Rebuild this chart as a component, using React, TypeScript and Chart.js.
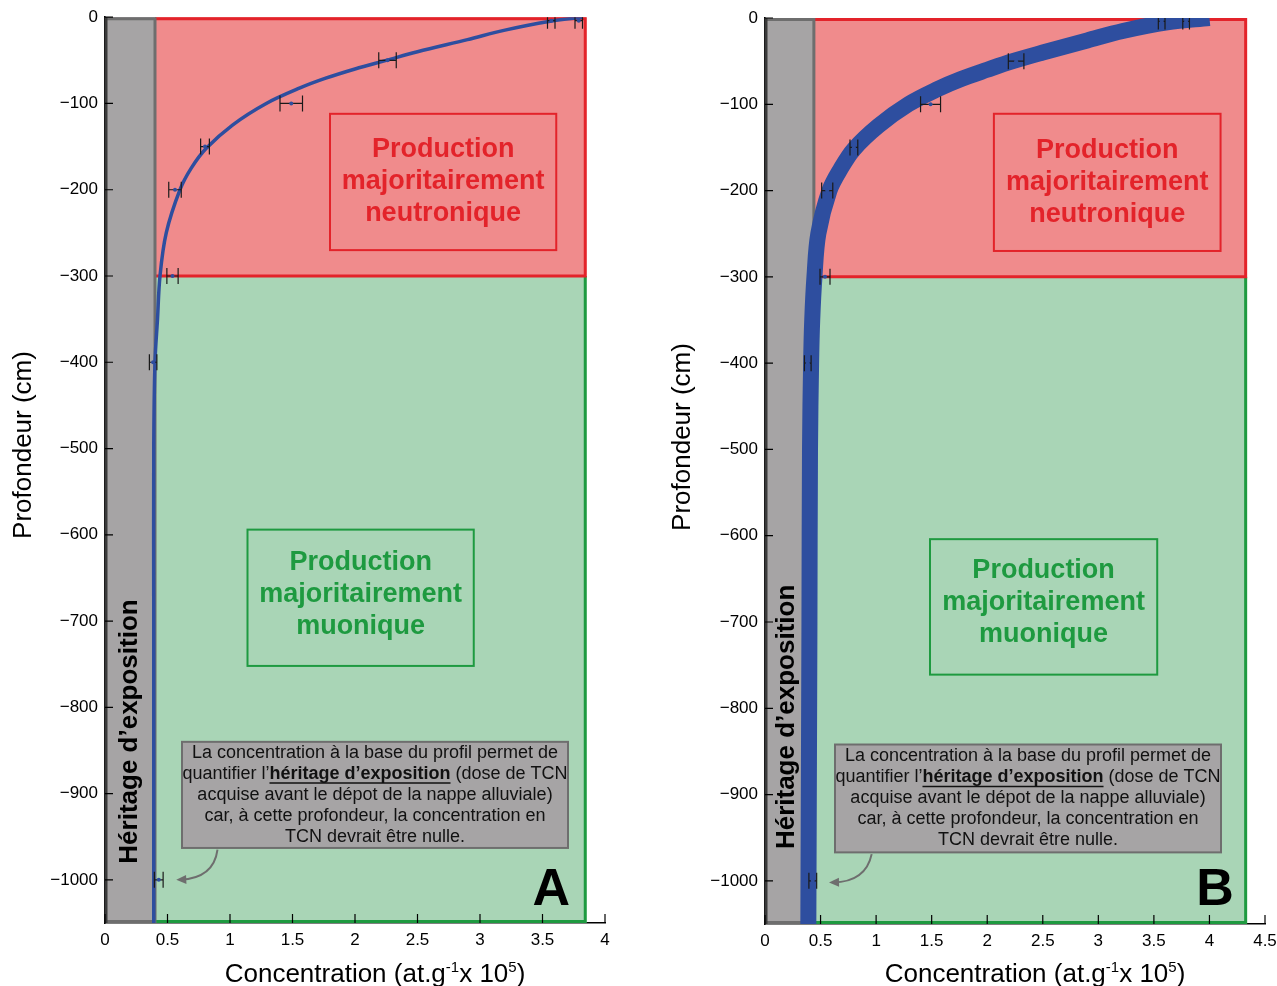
import React, { useEffect, useRef } from "react";
import { Chart, registerables } from "chart.js";
Chart.register(...registerables);

const FONT = "'Liberation Sans', Arial, Helvetica, sans-serif";

// ---------------- data ----------------
const yTickValues = [0, -100, -200, -300, -400, -500, -600, -700, -800, -900, -1000];
const xTickValuesA = [0, 0.5, 1, 1.5, 2, 2.5, 3, 3.5, 4];
const xTickValuesB = [0, 0.5, 1, 1.5, 2, 2.5, 3, 3.5, 4, 4.5];

// measured samples (depth in cm, concentration in at.g-1 x 1e5, half error)
const sampleDepth = [-4, -4, -50, -100, -150, -200, -300, -400, -1000];
const sampleConc = [3.57, 3.79, 2.26, 1.49, 0.8, 0.56, 0.54, 0.385, 0.43];
const sampleErr = [0.03, 0.03, 0.07, 0.09, 0.035, 0.05, 0.045, 0.03, 0.035];

// modelled profile, panel A
const modelDepthA = [0, -5, -15, -26, -40, -50, -60, -71, -82, -100, -125, -152, -175, -200, -250, -300, -350, -400, -500, -700, -1050];
const modelConcA = [3.82, 3.55, 3.2, 2.9, 2.5, 2.25, 2.0, 1.76, 1.56, 1.29, 1.02, 0.81, 0.69, 0.6, 0.49, 0.44, 0.42, 0.4, 0.39, 0.39, 0.39];

// modelled profile envelope, panel B
const modelDepthB = [0, -5, -15, -26, -40, -50, -60, -71, -82, -100, -125, -152, -175, -200, -250, -300, -350, -400, -500, -700, -1050];
const modelConcB = [4.0, 3.62, 3.22, 2.9, 2.5, 2.23, 2.0, 1.76, 1.56, 1.29, 1.02, 0.8, 0.68, 0.58, 0.48, 0.445, 0.425, 0.415, 0.405, 0.4, 0.39];

const depthBottom = -1050;
const neutronBase = -300;

const neutronLabel = ["Production", "majoritairement", "neutronique"];
const muonLabel = ["Production", "majoritairement", "muonique"];
const heritageLabel = "Héritage d’exposition";
const yTitle = "Profondeur (cm)";
const noteLines = [
  [{ t: "La concentration à la base du profil permet de", b: false }],
  [
    { t: "quantifier l’", b: false },
    { t: "héritage d’exposition", b: true },
    { t: " (dose de TCN", b: false },
  ],
  [{ t: "acquise avant le dépot de la nappe alluviale)", b: false }],
  [{ t: "car, à cette profondeur, la concentration en", b: false }],
  [{ t: "TCN devrait être nulle.", b: false }],
];
const xTitleParts = [
  { t: "Concentration (at.g", sup: false },
  { t: "-1", sup: true },
  { t: "x 10", sup: false },
  { t: "5", sup: true },
  { t: ")", sup: false },
];

// ---------------- styles ----------------
const RED_FILL = "#F08B8C";
const RED = "#E3232A";
const GREEN_FILL = "#A9D5B6";
const GREEN = "#1E9A40";
const GRAY_FILL = "#A6A4A5";
const GRAY_EDGE = "#6E6E6E";
const DARK_EDGE = "#3A3A3A";
const BLUE = "#2E4E9F";

type Box = [number, number, number, number];
type PanelCfg = {
  left: number;
  width: number;
  xMax: number;
  xTicks: number[];
  heritage: number;
  zoneRight: number;
  modelDepth: number[];
  modelConc: number[];
  lineWidth: number;
  padTop: number;
  padRight: number;
  yAxisWidth: number;
  xAxisHeight: number;
  neutronBox: Box;
  muonBox: Box;
  muonShift: number;
  noteBox: Box;
  letter: string;
  letterPos: [number, number];
  heritagePos: [number, number];
  arrow: { s: [number, number]; c: [number, number]; e: [number, number] };
  yTitlePos: [number, number];
  xTitlePos: [number, number];
};

function drawZones(chart: any, cfg: PanelCfg) {
  const { ctx } = chart;
  const px = (v: number) => chart.scales.x.getPixelForValue(v);
  const py = (v: number) => chart.scales.y.getPixelForValue(v);
  const x0 = px(0), xh = px(cfg.heritage), xr = px(cfg.zoneRight);
  const top = py(0), mid = py(neutronBase), bot = py(depthBottom);
  ctx.save();
  ctx.fillStyle = GREEN_FILL;
  ctx.fillRect(xh, mid, xr - xh, bot - mid);
  ctx.fillStyle = RED_FILL;
  ctx.fillRect(xh, top, xr - xh, mid - top);
  ctx.lineWidth = 3;
  ctx.strokeStyle = GREEN;
  ctx.beginPath();
  ctx.moveTo(xr - 1, mid);
  ctx.lineTo(xr - 1, bot - 1.5);
  ctx.lineTo(xh, bot - 1.5);
  ctx.stroke();
  ctx.strokeStyle = RED;
  ctx.beginPath();
  ctx.moveTo(xh, top + 1.5);
  ctx.lineTo(xr - 1, top + 1.5);
  ctx.lineTo(xr - 1, mid);
  ctx.lineTo(xh, mid);
  ctx.stroke();
  // heritage (gray) band
  ctx.fillStyle = GRAY_FILL;
  ctx.fillRect(x0, top, xh - x0, bot - top);
  ctx.strokeStyle = GRAY_EDGE;
  ctx.beginPath();
  ctx.moveTo(x0, top + 1.5);
  ctx.lineTo(xh, top + 1.5);
  ctx.lineTo(xh, bot - 1.5);
  ctx.lineTo(x0, bot - 1.5);
  ctx.stroke();
  ctx.strokeStyle = DARK_EDGE;
  ctx.beginPath();
  ctx.moveTo(x0 + 1, top);
  ctx.lineTo(x0 + 1, bot);
  ctx.stroke();
  ctx.restore();
}

function drawOverlay(chart: any, cfg: PanelCfg) {
  const { ctx, chartArea } = chart;
  const px = (v: number) => chart.scales.x.getPixelForValue(v);
  const py = (v: number) => chart.scales.y.getPixelForValue(v);
  ctx.save();

  // error bars
  ctx.save();
  ctx.beginPath();
  ctx.rect(chartArea.left, chartArea.top, chartArea.right - chartArea.left, chartArea.bottom - chartArea.top);
  ctx.clip();
  ctx.strokeStyle = "#1a1a1a";
  ctx.lineWidth = 1.2;
  for (let i = 0; i < sampleDepth.length; i++) {
    const c = sampleConc[i], e = sampleErr[i];
    const yy = py(sampleDepth[i]);
    const xl = px(c - e), xr = px(c + e);
    ctx.beginPath();
    ctx.moveTo(xl, yy);
    ctx.lineTo(xr, yy);
    ctx.moveTo(xl, yy - 8);
    ctx.lineTo(xl, yy + 8);
    ctx.moveTo(xr, yy - 8);
    ctx.lineTo(xr, yy + 8);
    ctx.stroke();
    ctx.fillStyle = BLUE;
    ctx.beginPath();
    ctx.arc(px(c), yy, 2, 0, Math.PI * 2);
    ctx.fill();
  }
  ctx.restore();

  // inward tick marks
  ctx.strokeStyle = "#000";
  ctx.lineWidth = 1.2;
  const ax = px(0);
  const ay = py(depthBottom);
  ctx.beginPath();
  for (const v of yTickValues) {
    ctx.moveTo(ax, py(v));
    ctx.lineTo(ax + 8, py(v));
  }
  for (const v of cfg.xTicks) {
    ctx.moveTo(px(v), ay);
    ctx.lineTo(px(v), ay - 9);
  }
  ctx.stroke();

  // zone label boxes
  const drawLabelBox = (b: Box, lines: string[], color: string, shift: number) => {
    const x0 = px(b[0]), x1 = px(b[1]), y0 = py(b[2]), y1 = py(b[3]);
    ctx.strokeStyle = color;
    ctx.lineWidth = 2;
    ctx.strokeRect(x0, y0, x1 - x0, y1 - y0);
    ctx.fillStyle = color;
    ctx.font = `bold 27px ${FONT}`;
    ctx.textAlign = "center";
    ctx.textBaseline = "middle";
    const cx = (x0 + x1) / 2, cy = (y0 + y1) / 2 + shift;
    lines.forEach((l, i) => ctx.fillText(l, cx, cy + (i - 1) * 32));
  };
  drawLabelBox(cfg.neutronBox, neutronLabel, RED, 0);
  drawLabelBox(cfg.muonBox, muonLabel, GREEN, cfg.muonShift);

  // note box
  {
    const b = cfg.noteBox;
    const x0 = px(b[0]), x1 = px(b[1]), y0 = py(b[2]), y1 = py(b[3]);
    ctx.fillStyle = GRAY_FILL;
    ctx.fillRect(x0, y0, x1 - x0, y1 - y0);
    ctx.strokeStyle = GRAY_EDGE;
    ctx.lineWidth = 2;
    ctx.strokeRect(x0, y0, x1 - x0, y1 - y0);
    const cx = (x0 + x1) / 2, cy = (y0 + y1) / 2;
    ctx.textBaseline = "middle";
    ctx.textAlign = "left";
    noteLines.forEach((segs, i) => {
      const yy = cy + (i - 2) * 21;
      let total = 0;
      const widths = segs.map((s) => {
        ctx.font = `${s.b ? "bold " : ""}18px ${FONT}`;
        const w = ctx.measureText(s.t).width;
        total += w;
        return w;
      });
      let xx = cx - total / 2;
      segs.forEach((s, j) => {
        ctx.font = `${s.b ? "bold " : ""}18px ${FONT}`;
        ctx.fillStyle = "#111";
        ctx.fillText(s.t, xx, yy);
        if (s.b) {
          ctx.strokeStyle = "#111";
          ctx.lineWidth = 1.5;
          ctx.beginPath();
          ctx.moveTo(xx, yy + 9);
          ctx.lineTo(xx + widths[j], yy + 9);
          ctx.stroke();
        }
        xx += widths[j];
      });
    });
  }

  // arrow
  {
    const a = cfg.arrow;
    const s = [px(a.s[0]), py(a.s[1])];
    const c = [px(a.c[0]), py(a.c[1])];
    const e = [px(a.e[0]), py(a.e[1])];
    ctx.strokeStyle = GRAY_EDGE;
    ctx.fillStyle = GRAY_EDGE;
    ctx.lineWidth = 2;
    ctx.beginPath();
    ctx.moveTo(s[0], s[1]);
    ctx.quadraticCurveTo(c[0], c[1], e[0] + 4, e[1]);
    ctx.stroke();
    const ang = Math.atan2(e[1] - c[1], e[0] - c[0]);
    const L = 10, W = 4.5;
    ctx.beginPath();
    ctx.moveTo(e[0], e[1]);
    ctx.lineTo(e[0] - L * Math.cos(ang) + W * Math.sin(ang), e[1] - L * Math.sin(ang) - W * Math.cos(ang));
    ctx.lineTo(e[0] - L * Math.cos(ang) - W * Math.sin(ang), e[1] - L * Math.sin(ang) + W * Math.cos(ang));
    ctx.closePath();
    ctx.fill();
  }

  // heritage vertical label
  ctx.save();
  ctx.translate(px(cfg.heritagePos[0]), py(cfg.heritagePos[1]));
  ctx.rotate(-Math.PI / 2);
  ctx.fillStyle = "#000";
  ctx.font = `bold 26px ${FONT}`;
  ctx.textAlign = "center";
  ctx.textBaseline = "middle";
  ctx.fillText(heritageLabel, 0, 0);
  ctx.restore();

  // panel letter
  ctx.fillStyle = "#000";
  ctx.font = `bold 52px ${FONT}`;
  ctx.textAlign = "center";
  ctx.textBaseline = "alphabetic";
  ctx.fillText(cfg.letter, px(cfg.letterPos[0]), py(cfg.letterPos[1]));

  // axis titles
  ctx.save();
  ctx.translate(cfg.yTitlePos[0], cfg.yTitlePos[1]);
  ctx.rotate(-Math.PI / 2);
  ctx.font = `26px ${FONT}`;
  ctx.textAlign = "center";
  ctx.textBaseline = "middle";
  ctx.fillText(yTitle, 0, 0);
  ctx.restore();

  {
    ctx.textAlign = "left";
    ctx.textBaseline = "alphabetic";
    let total = 0;
    const ws = xTitleParts.map((p) => {
      ctx.font = `${p.sup ? 15 : 26}px ${FONT}`;
      const w = ctx.measureText(p.t).width;
      total += w;
      return w;
    });
    let xx = cfg.xTitlePos[0] - total / 2;
    xTitleParts.forEach((p, i) => {
      ctx.font = `${p.sup ? 15 : 26}px ${FONT}`;
      ctx.fillText(p.t, xx, cfg.xTitlePos[1] - (p.sup ? 10 : 0));
      xx += ws[i];
    });
  }

  ctx.restore();
}

function buildConfig(cfg: PanelCfg): any {
  const data = cfg.modelDepth.map((d, i) => ({ x: cfg.modelConc[i], y: d }));
  const decor = {
    id: "decor",
    beforeDatasetsDraw(chart: any) {
      drawZones(chart, cfg);
    },
    afterDatasetsDraw(chart: any) {
      drawOverlay(chart, cfg);
    },
  };
  return {
    type: "line",
    data: {
      datasets: [
        {
          data,
          borderColor: BLUE,
          borderWidth: cfg.lineWidth,
          pointRadius: 0,
          tension: 0.35,
          fill: false,
          clip: 0,
          borderJoinStyle: "round",
        },
      ],
    },
    options: {
      responsive: false,
      maintainAspectRatio: false,
      animation: false,
      layout: { padding: { top: cfg.padTop, right: cfg.padRight, left: 0, bottom: 0 } },
      plugins: { legend: { display: false }, tooltip: { enabled: false }, title: { display: false } },
      scales: {
        x: {
          type: "linear",
          min: 0,
          max: cfg.xMax,
          afterBuildTicks: (s: any) => {
            s.ticks = cfg.xTicks.map((v) => ({ value: v }));
          },
          afterFit: (s: any) => {
            s.height = cfg.xAxisHeight;
          },
          grid: { display: false, drawTicks: false },
          border: { display: true, color: "#000", width: 1.5 },
          ticks: {
            font: { size: 17, family: FONT },
            color: "#000",
            padding: 7,
            maxRotation: 0,
            minRotation: 0,
            autoSkip: false,
            callback: (v: any) => String(v),
          },
        },
        y: {
          type: "linear",
          min: depthBottom,
          max: 0,
          afterBuildTicks: (s: any) => {
            s.ticks = yTickValues.map((v) => ({ value: v }));
          },
          afterFit: (s: any) => {
            s.width = cfg.yAxisWidth;
          },
          grid: { display: false, drawTicks: false },
          border: { display: true, color: "#000", width: 1.5 },
          ticks: {
            font: { size: 17, family: FONT },
            color: "#000",
            padding: 7,
            autoSkip: false,
            callback: (v: any) => (v < 0 ? "\u2212" + Math.abs(v) : String(v)),
          },
        },
      },
    },
    plugins: [decor],
  };
}

const panelA: PanelCfg = {
  left: 0,
  width: 640,
  xMax: 4,
  xTicks: xTickValuesA,
  heritage: 0.4,
  zoneRight: 3.85,
  modelDepth: modelDepthA,
  modelConc: modelConcA,
  lineWidth: 3.5,
  padTop: 17,
  padRight: 35,
  yAxisWidth: 105,
  xAxisHeight: 63,
  neutronBox: [1.8, 3.61, -112, -270],
  muonBox: [1.14, 2.95, -594, -752],
  muonShift: -3,
  noteBox: [0.616, 3.704, -840, -963],
  letter: "A",
  letterPos: [3.57, -1029],
  heritagePos: [0.2, -828],
  arrow: { s: [0.9, -965], c: [0.87, -998], e: [0.57, -1000] },
  yTitlePos: [24, 445],
  xTitlePos: [375, 982],
};

const panelB: PanelCfg = {
  left: 637,
  width: 670,
  xMax: 4.5,
  xTicks: xTickValuesB,
  heritage: 0.44,
  zoneRight: 4.335,
  modelDepth: modelDepthB,
  modelConc: modelConcB,
  lineWidth: 16,
  padTop: 18,
  padRight: 42,
  yAxisWidth: 128,
  xAxisHeight: 62,
  neutronBox: [2.06, 4.1, -111, -270],
  muonBox: [1.485, 3.53, -604, -761],
  muonShift: -4,
  noteBox: [0.63, 4.104, -842, -967],
  letter: "B",
  letterPos: [4.05, -1028],
  heritagePos: [0.2, -810],
  arrow: { s: [0.96, -969], c: [0.908, -1001], e: [0.576, -1002] },
  yTitlePos: [46, 437],
  xTitlePos: [398, 982],
};

function Panel({ cfg }: { cfg: PanelCfg }) {
  const ref = useRef<HTMLCanvasElement | null>(null);
  useEffect(() => {
    if (!ref.current) return;
    const chart = new Chart(ref.current, buildConfig(cfg));
    return () => chart.destroy();
  }, [cfg]);
  return (
    <canvas
      ref={ref}
      width={cfg.width}
      height={986}
      style={{ position: "absolute", left: cfg.left, top: 0, width: cfg.width, height: 986 }}
    />
  );
}

export default function App() {
  return (
    <div style={{ position: "absolute", left: 0, top: 0, width: 1277, height: 986, background: "#fff", overflow: "hidden" }}>
      <Panel cfg={panelA} />
      <Panel cfg={panelB} />
    </div>
  );
}
